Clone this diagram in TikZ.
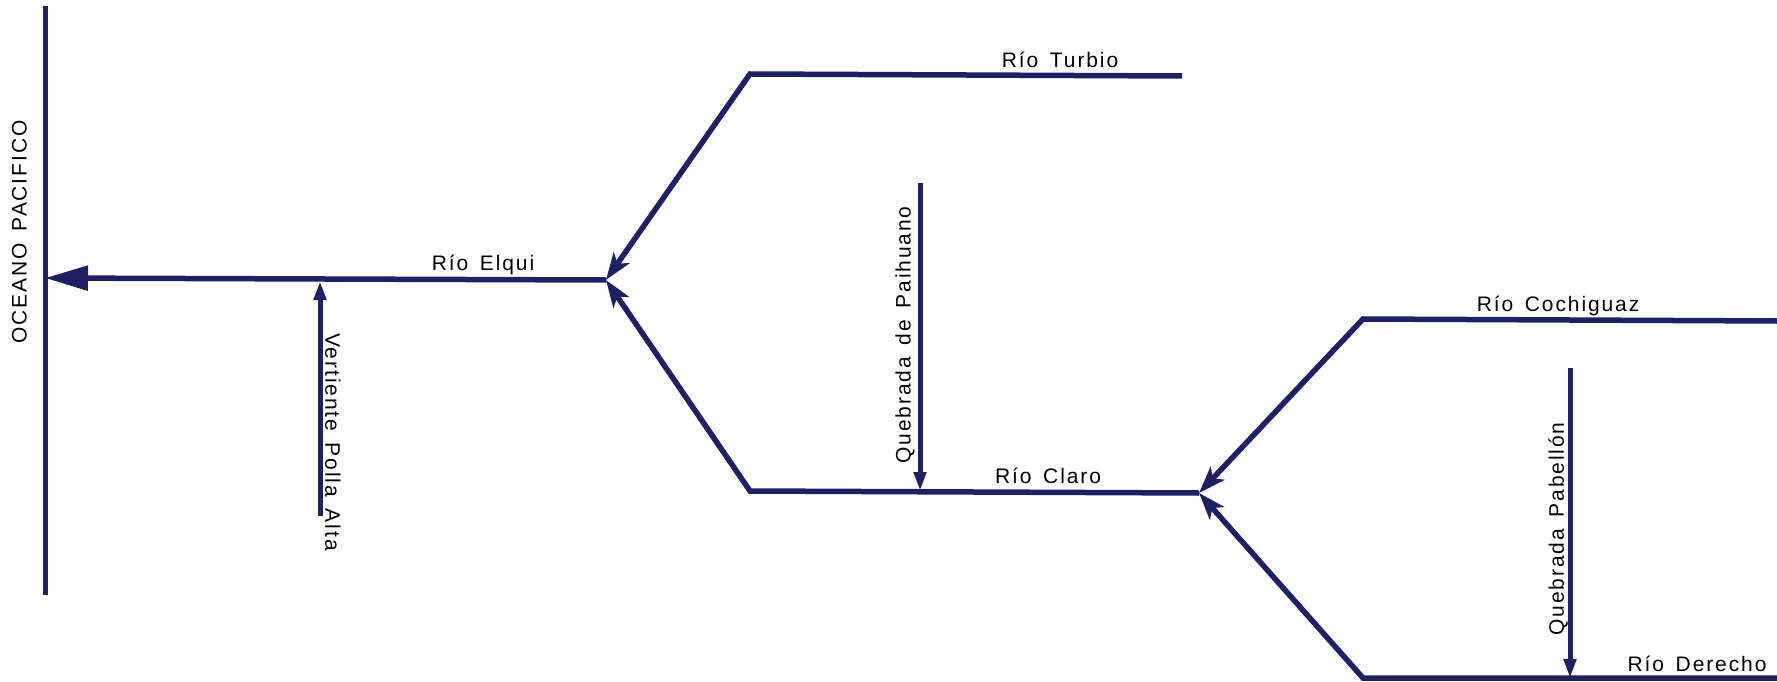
\documentclass[tikz,border=0pt]{standalone}
\usepackage{fontspec}
\setmainfont{Liberation Sans}[LetterSpace=9]
\usetikzlibrary{arrows.meta}
\definecolor{river}{RGB}{30,32,100}
\newcommand{\wsp}{\ \hspace{4pt}}
\begin{document}
\begin{tikzpicture}[x=1pt,y=-1pt,
  riv/.style={draw=river,line width=5.5pt,line join=miter},
  trib/.style={draw=river,line width=5pt},
  lbl/.style={inner sep=0pt,font=\fontsize{21}{25}\selectfont,text=black},
  junc/.style={-{Stealth[length=27pt,width=19pt,inset=7pt]}},
  small/.style={-{Triangle[length=19pt,width=12pt]}},
  big/.style={-{Triangle[length=43pt,width=24pt]}}]
\useasboundingbox (0,0) rectangle (1777,682);
% coordinates
\coordinate (Otop) at (45,6);
\coordinate (Obot) at (45,595);
\coordinate (E0) at (45,278);
\coordinate (J1) at (606,280);
\coordinate (V0) at (320,516);
\coordinate (V1) at (320,281);
\coordinate (T0) at (750,74);
\coordinate (T1) at (1182,76);
\coordinate (C0) at (750,491);
\coordinate (J2) at (1199,493);
\coordinate (P0) at (920,183);
\coordinate (P1) at (920,491);
\coordinate (K0) at (1363,319);
\coordinate (K1) at (1777,321);
\coordinate (D0) at (1363,678);
\coordinate (D1) at (1777,678);
\coordinate (B0) at (1570,368);
\coordinate (B1) at (1570,678);
% ocean
\draw[riv,line width=5pt] (Otop) -- (Obot);
% Elqui
\draw[riv,big] (J1) -- (E0);
\draw[trib,small] (V0) -- (V1);
% upper and lower branches to J1
\draw[riv,junc] (T1) -- (T0) -- (J1);
\draw[riv,junc] (J2) -- (C0) -- (J1);
\draw[trib,small] (P0) -- (P1);
% branches to J2
\draw[riv,junc] (K1) -- (K0) -- (J2);
\draw[riv,junc] (D1) -- (D0) -- (J2);
\draw[trib,small] (B0) -- (B1);
% labels
\node[lbl,rotate=90] (ocean) at (19.5,232) {OCEANO\wsp PACIFICO};
\node[lbl,anchor=base] (elqui) at (483,270) {Río\wsp Elqui};
\node[lbl,rotate=-90] (vert) at (333,442) {Vertiente\wsp Polla\wsp Alta};
\node[lbl,anchor=base] (turbio) at (1060,68) {Río\wsp Turbio};
\node[lbl,anchor=base] (claro) at (1048,483) {Río\wsp Claro};
\node[lbl,rotate=90] (paih) at (905,335) {Quebrada\wsp de\wsp Paihuano};
\node[lbl,anchor=base] (coch) at (1558,311) {Río\wsp Cochiguaz};
\node[lbl,anchor=base] (dere) at (1697,671) {Río\wsp Derecho};
\node[lbl,rotate=90] (pab) at (1558,529) {Quebrada\wsp Pabellón};
\end{tikzpicture}
\end{document}
